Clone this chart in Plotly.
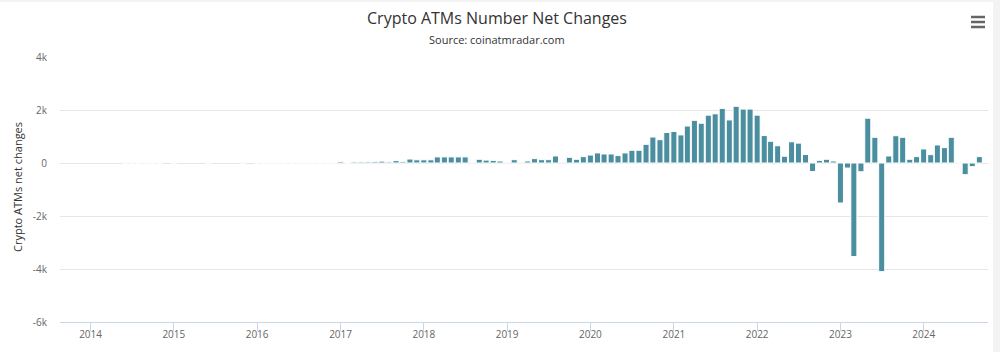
import pandas as pd
import plotly.graph_objects as go

# Net monthly change in number of crypto ATMs (None = no data point)
SMALL = 2
vals_2014 = [None, None, None, None, None, SMALL, SMALL, SMALL, SMALL, SMALL, SMALL, None]
vals_2015 = [SMALL, None, None, None, None, SMALL, None, None, None, None, SMALL, None]
vals_2016 = [SMALL] * 12
vals_2017 = [50, SMALL, 40, 40, 40, 50, 70, 40, 90, 50, 150, 120]
vals_2018 = [120, 120, 230, 230, 230, 230, 230, 10, 140, 110, 100, 75]
vals_2019 = [25, 125, 25, 75, 165, 125, 125, 265, 25, 215, 140, 240]
vals_2020 = [300, 380, 340, 340, 280, 380, 480, 480, 705, 980, 880, 1150]
vals_2021 = [1190, 1060, 1395, 1610, 1500, 1805, 1855, 2060, 1625, 2140, 2035, 2035]
vals_2022 = [1805, 1035, 820, 650, 255, 800, 750, 320, -320, 100, 140, 75]
vals_2023 = [-1510, -190, -3530, -330, 1690, 970, -4100, 265, 1030, 970, 140, 240]
vals_2024 = [530, 315, 680, 580, 970, SMALL, -440, -140, 240]

values = (vals_2014 + vals_2015 + vals_2016 + vals_2017 + vals_2018 + vals_2019
          + vals_2020 + vals_2021 + vals_2022 + vals_2023 + vals_2024)
months = pd.date_range("2014-01-01", periods=len(values), freq="MS")

y_tickvals = [-6000, -4000, -2000, 0, 2000, 4000]
y_ticktext = ["-6k", "-4k", "-2k", "0", "2k", "4k"]

TITLE = "Crypto ATMs Number Net Changes"
SUBTITLE = "Source: coinatmradar.com"
Y_TITLE = "Crypto ATMs net changes"

FONT = "Open Sans, DejaVu Sans, sans-serif"
BAR_COLOR = "#4a8e9f"

fig = go.Figure()
fig.add_trace(go.Bar(
    x=months, y=values,
    marker=dict(color=BAR_COLOR, line=dict(color="#ffffff", width=1)),
    hoverinfo="x+y",
))

L, R, T, B = 60, 12, 57, 30
W, H = 1000, 352
pw, ph = W - L - R, H - T - B

def px_x(p):
    return (p - L) / pw

def px_y(p):
    return (H - B - p) / ph

shapes = [
    dict(type="line", xref="paper", yref="paper",
         x0=px_x(971), x1=px_x(985), y0=px_y(yy), y1=px_y(yy),
         line=dict(color="#666666", width=2.5))
    for yy in (17, 22, 27)
]
# light page background visible around the chart container
shapes.append(dict(type="rect", xref="paper", yref="paper", layer="below",
                   x0=px_x(993), x1=px_x(1001), y0=px_y(353), y1=px_y(-1),
                   fillcolor="#f3f3f3", line=dict(width=0)))
shapes.append(dict(type="rect", xref="paper", yref="paper", layer="below",
                   x0=px_x(-1), x1=px_x(1001), y0=px_y(2), y1=px_y(-1),
                   fillcolor="#f3f3f3", line=dict(width=0)))

fig.update_layout(
    template="none",
    width=W, height=H, autosize=False,
    margin=dict(l=L, r=R, t=T, b=B, pad=0, autoexpand=False),
    paper_bgcolor="#ffffff", plot_bgcolor="#ffffff",
    font=dict(family=FONT, color="#666666", size=10),
    showlegend=False,
    bargap=0.05,
    title=dict(text=TITLE, x=0.497, xref="container", xanchor="center",
               y=1 - 18 / H, yref="container", yanchor="middle",
               font=dict(family=FONT, size=16, color="#333333")),
    xaxis=dict(
        type="date", automargin=False,
        range=["2013-08-20", "2024-10-09"],
        tick0="2014-01-01", dtick="M12", tickformat="%Y",
        showgrid=False, zeroline=False,
        showline=True, linecolor="#ccd6eb", linewidth=1,
        ticks="outside", ticklen=8, tickcolor="#ccd6eb", tickwidth=1,
        ticklabelstandoff=-5,
        tickfont=dict(family=FONT, size=10, color="#666666"),
        fixedrange=True,
    ),
    yaxis=dict(
        automargin=False,
        range=[-6000, 4000],
        tickvals=y_tickvals, ticktext=y_ticktext,
        showgrid=True, gridcolor="#e6e6e6", gridwidth=1,
        zeroline=False, showline=False, ticks="",
        ticklabelstandoff=12,
        tickfont=dict(family=FONT, size=10, color="#666666"),
        fixedrange=True,
    ),
    annotations=[
        dict(text=SUBTITLE, xref="paper", yref="paper",
             x=px_x(497), y=px_y(39), xanchor="center", yanchor="middle",
             showarrow=False, font=dict(family=FONT, size=11, color="#333333")),
        dict(text=Y_TITLE, xref="paper", yref="paper",
             x=px_x(17), y=px_y(187), xanchor="center", yanchor="middle",
             textangle=-90, showarrow=False,
             font=dict(family=FONT, size=11, color="#333333")),
    ],
    shapes=shapes,
)

fig.write_html("out.html")
